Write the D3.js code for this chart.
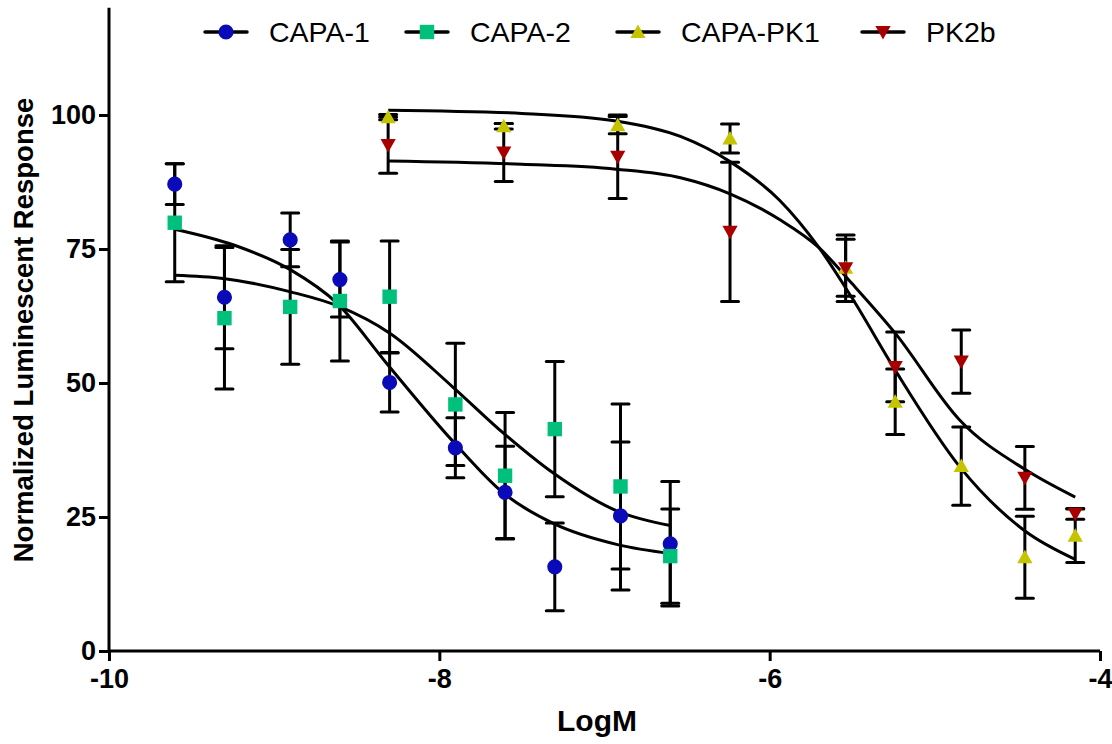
<!DOCTYPE html>
<html>
<head>
<meta charset="utf-8">
<script src="https://cdn.jsdelivr.net/npm/d3@7"></script>
<style>
  html, body { margin: 0; padding: 0; background: #fff; }
  svg { display: block; }
  text { font-family: "Liberation Sans", Arial, Helvetica, sans-serif; }
</style>
</head>
<body>
<svg id="chart" width="1112" height="744"></svg>
<script>
// ---------------- data ----------------
const seriesNames = ["CAPA-1", "CAPA-2", "CAPA-PK1", "PK2b"];

const xCapa = [-9.602, -9.301, -8.903, -8.602, -8.301, -7.903, -7.602, -7.301, -6.903, -6.602];
const capa1Mean = [87.1, 66.0, 76.7, 69.3, 50.1, 37.9, 29.6, 15.7, 25.2, 20.0];
const capa1Err  = [3.8, 9.6, 5.0, 7.0, 5.5, 5.6, 8.6, 8.2, 13.8, 11.6];
const capa2Mean = [79.9, 62.1, 64.2, 65.3, 66.1, 46.0, 32.7, 41.4, 30.7, 17.7];
const capa2Err  = [11.0, 13.2, 10.7, 11.2, 10.4, 11.4, 11.8, 12.6, 15.4, 8.8];

const xPk = [-8.31, -7.61, -6.92, -6.24, -5.54, -5.24, -4.84, -4.455, -4.15];
const pk1Mean  = [99.6, 97.9, 98.1, 95.6, 71.5, 46.5, 34.5, 17.5, 21.5];
const pk1Err   = [0.5, 0.5, 1.6, 2.7, 5.3, 6.1, 7.3, 7.65, 5.0];
const pk2bMean = [94.4, 93.0, 92.2, 78.2, 71.4, 53.0, 54.0, 32.3, 25.6];
const pk2bErr  = [5.25, 5.4, 7.8, 13.0, 6.2, 6.5, 5.9, 5.85, 1.0];

// fitted curves
const capa1FitX = [-9.602, -9.24, -8.9, -8.62, -8.32, -7.92, -7.61, -7.31, -6.915, -6.602];
const capa1FitY = [78.7, 75.7, 71.1, 64.9, 53.7, 39.2, 29.4, 23.8, 19.8, 18.2];
const capa2FitX = [-9.602, -9.31, -8.9, -8.6, -8.3, -7.92, -7.61, -7.31, -6.915, -6.602];
const capa2FitY = [70.1, 69.5, 67.0, 64.2, 59.3, 49.3, 40.6, 33.2, 26.0, 23.4];
const pk1FitX = [-8.31, -7.5, -6.93, -6.54, -6.24, -5.94, -5.70, -5.50, -5.24, -4.85, -4.45, -4.15];
const pk1FitY = [100.9, 100.3, 98.9, 96.0, 91.3, 84.1, 75.2, 65.8, 52.4, 34.4, 22.3, 17.1];
const pk2bFitX = [-8.31, -7.5, -6.93, -6.54, -6.24, -5.94, -5.70, -5.50, -5.24, -4.85, -4.45, -4.15];
const pk2bFitY = [91.4, 90.8, 89.9, 88.3, 85.3, 80.5, 75.2, 68.5, 59.3, 43.1, 33.8, 28.7];

const xTicks = [-10, -8, -6, -4];
const yTicks = [0, 25, 50, 75, 100];
const seriesColors = ["#0a0ab8", "#00c07c", "#c4c400", "#a80000"];
const seriesShapes = ["circle", "square", "up", "down"];

// ---------------- layout ----------------
const svg = d3.select("#chart");
const x = d3.scaleLinear().domain([-10, -4]).range([109, 1100]);
const y = d3.scaleLinear().domain([0, 120]).range([651, 7.8]);

const series = [
  { xs: xCapa, mean: capa1Mean, err: capa1Err, fx: capa1FitX, fy: capa1FitY },
  { xs: xCapa, mean: capa2Mean, err: capa2Err, fx: capa2FitX, fy: capa2FitY },
  { xs: xPk, mean: pk1Mean, err: pk1Err, fx: pk1FitX, fy: pk1FitY },
  { xs: xPk, mean: pk2bMean, err: pk2bErr, fx: pk2bFitX, fy: pk2bFitY }
].map((s, i) => Object.assign(s, { name: seriesNames[i], color: seriesColors[i], shape: seriesShapes[i] }));

function markerPath(shape) {
  if (shape === "circle") return d3.symbol(d3.symbolCircle, 180)();
  if (shape === "square") return "M-7.2,-7.2H7.2V7.2H-7.2Z";
  if (shape === "up") return "M0,-7.5L7.6,6L-7.6,6Z";
  return "M0,7.5L7.6,-6L-7.6,-6Z";
}

// axes
const xAxis = d3.axisBottom(x).tickValues(xTicks).tickSize(10).tickSizeOuter(0).tickPadding(8).tickFormat(d3.format("d"));
const yAxis = d3.axisLeft(y).tickValues(yTicks).tickSize(10).tickSizeOuter(0).tickPadding(3).tickFormat(d3.format("d"));

const gx = svg.append("g").attr("transform", "translate(0,651)").call(xAxis);
const gy = svg.append("g").attr("transform", "translate(109,0)").call(yAxis);
[gx, gy].forEach(g => {
  g.select(".domain").attr("stroke", "#000").attr("stroke-width", 3);
  g.selectAll(".tick line").attr("stroke", "#000").attr("stroke-width", 3);
  g.selectAll(".tick text")
    .attr("fill", "#000")
    .style("font-family", '"Liberation Sans", Arial, sans-serif')
    .style("font-size", "27px")
    .style("font-weight", "bold");
});
gx.selectAll(".tick text").text(d => d3.format("d")(d).replace("\u2212", "-"));
gy.select(".domain").attr("d", "M0,651V7.8");
gx.select(".domain").attr("d", "M109,0H1100");

// axis titles
svg.append("text")
  .attr("transform", "translate(33,330) rotate(-90)")
  .attr("text-anchor", "middle")
  .style("font-size", "27.5px").style("font-weight", "bold")
  .text("Normalized Luminescent Response");
svg.append("text")
  .attr("x", 597).attr("y", 731)
  .attr("text-anchor", "middle")
  .style("font-size", "30px").style("font-weight", "bold")
  .text("LogM");

// error bars
const capHalf = 8.5;
series.forEach(s => {
  const g = svg.append("g").attr("stroke", "#000").attr("stroke-width", 3).attr("fill", "none");
  s.xs.forEach((xv, i) => {
    const lo = s.mean[i] - s.err[i], hi = s.mean[i] + s.err[i];
    g.append("line").attr("x1", x(xv)).attr("x2", x(xv)).attr("y1", y(hi)).attr("y2", y(lo));
    g.append("line").attr("x1", x(xv) - capHalf).attr("x2", x(xv) + capHalf).attr("y1", y(hi)).attr("y2", y(hi)).attr("stroke-linecap", "round");
    g.append("line").attr("x1", x(xv) - capHalf).attr("x2", x(xv) + capHalf).attr("y1", y(lo)).attr("y2", y(lo)).attr("stroke-linecap", "round");
  });
});

// fitted curves
const line = d3.line().x(d => x(d[0])).y(d => y(d[1])).curve(d3.curveMonotoneX);
series.forEach(s => {
  svg.append("path")
    .datum(s.fx.map((v, i) => [v, s.fy[i]]))
    .attr("d", line)
    .attr("fill", "none").attr("stroke", "#000").attr("stroke-width", 3);
});

// markers
series.forEach(s => {
  svg.append("g").selectAll("path")
    .data(s.xs.map((v, i) => [v, s.mean[i]]))
    .join("path")
    .attr("transform", d => `translate(${x(d[0])},${y(d[1])})`)
    .attr("d", markerPath(s.shape))
    .attr("fill", s.color);
});

// legend
const legendX = [226, 427, 638, 883];
const legendY = 32;
series.forEach((s, i) => {
  const g = svg.append("g").attr("transform", `translate(${legendX[i]},${legendY})`);
  g.append("line").attr("x1", -21).attr("x2", 21).attr("y1", 0).attr("y2", 0)
    .attr("stroke", "#000").attr("stroke-width", 3.5).attr("stroke-linecap", "round");
  g.append("path").attr("d", markerPath(s.shape)).attr("fill", s.color);
  g.append("text").attr("x", 43).attr("y", 10)
    .style("font-size", "28.5px")
    .attr("fill", "#000")
    .text(s.name);
});
</script>
</body>
</html>
